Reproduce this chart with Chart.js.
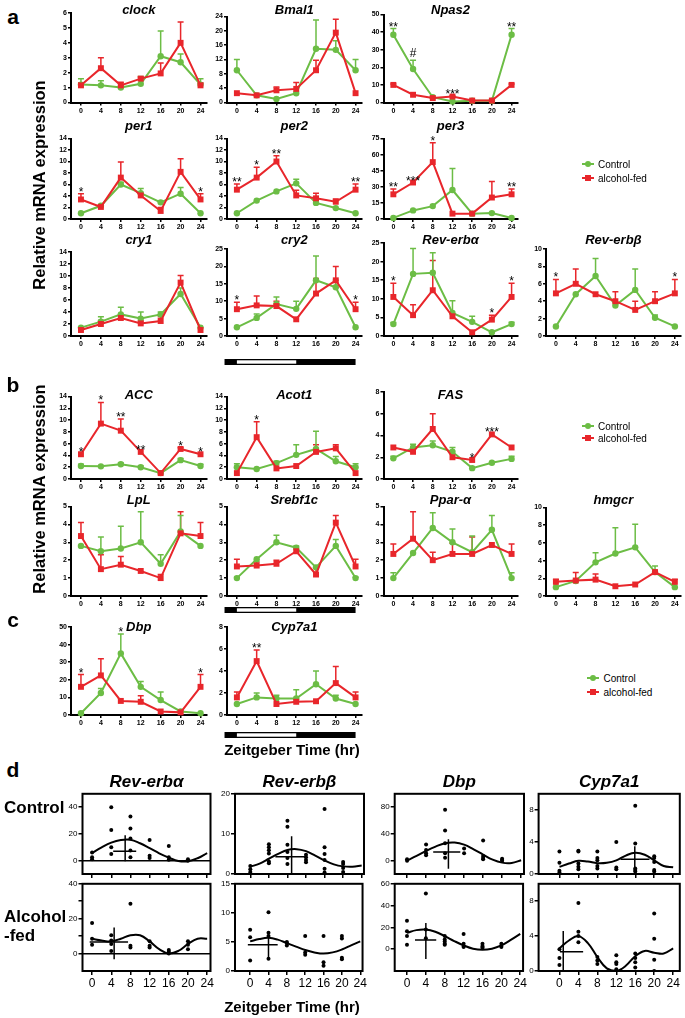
<!DOCTYPE html>
<html>
<head>
<meta charset="utf-8">
<title>Clock and lipid gene expression</title>
<script src="https://cdn.jsdelivr.net/npm/chart.js@4.4.1/dist/chart.umd.min.js"></script>
<style>
  body { margin: 0; background: #fff; }
  #fig { position: relative; width: 685px; height: 1018px; overflow: hidden; font-family: Arial, "Liberation Sans", sans-serif; color: #000; }
  #fig canvas { position: absolute; }
  .txt { position: absolute; white-space: nowrap; line-height: 1; transform: translate(-50%, -50%); }
  .txt.left { transform: translate(0, -50%); }
  .txt.vert { transform: translate(-50%, -50%) rotate(-90deg); }
  .swatch { position: absolute; }
</style>
</head>
<body>
<div id="fig"></div>
<script>
// time points (Zeitgeber time, hr)
const zt = [0, 4, 8, 12, 16, 20, 24];
const none = ['', '', '', '', '', '', ''];

// ---- panel a ----
const clockCtrl = [1.2, 1.15, 1.0, 1.25, 3.1, 2.7, 1.2];
const clockCtrlErr = [0.4, 0.3, 0.1, 0.5, 1.7, 0.55, 0.4];
const clockAlc = [1.15, 2.3, 1.15, 1.6, 1.95, 4.0, 1.15];
const clockAlcErr = [0.15, 0.7, 0.2, 0.1, 0.7, 1.4, 0.15];

const bmal1Ctrl = [9, 2.0, 1.0, 2.6, 15, 14.7, 9];
const bmal1CtrlErr = [3, 0, 0, 0, 8, 2.5, 3];
const bmal1Alc = [2.6, 2.0, 3.4, 3.8, 9, 19.5, 2.6];
const bmal1AlcErr = [0, 0, 0.9, 1.8, 2.8, 3.7, 0];

const npas2Ctrl = [38.5, 19, 3, 0.6, 1, 1, 38.5];
const npas2CtrlErr = [3.5, 5, 0, 0, 0, 0, 3.5];
const npas2Alc = [10, 4.4, 2.5, 3.4, 1.1, 1.1, 10];
const npas2AlcErr = [0.5, 0, 0, 0.5, 0, 0, 0.5];
const npas2Stars = ['**', '#', '', '***', '', '', '**'];

const per1Ctrl = [1.0, 2.3, 6.0, 4.5, 2.9, 4.4, 1.0];
const per1CtrlErr = [0, 0, 0.4, 0.8, 0, 1.1, 0];
const per1Alc = [3.4, 2.1, 7.2, 4.1, 1.4, 8.2, 3.4];
const per1AlcErr = [1.0, 0.4, 2.7, 0.3, 0.6, 2.3, 1.0];
const per1Stars = ['*', '', '', '', '', '', '*'];

const per2Ctrl = [1.0, 3.2, 4.8, 6.2, 2.8, 1.9, 1.0];
const per2CtrlErr = [0, 0, 0, 0.7, 0, 0, 0];
const per2Alc = [5.1, 7.2, 10.0, 4.1, 3.6, 3.0, 5.1];
const per2AlcErr = [1.0, 1.8, 1.0, 0.9, 0.9, 0.5, 1.0];
const per2Stars = ['**', '*', '**', '', '', '', '**'];

const per3Ctrl = [1, 8, 12, 27, 5, 5.5, 1];
const per3CtrlErr = [0, 0, 0, 20, 0, 0, 0];
const per3Alc = [23, 34, 53, 5, 5, 20, 23];
const per3AlcErr = [5, 0, 18, 0, 0, 15, 5];
const per3Stars = ['**', '***', '*', '', '', '', '**'];

const cry1Ctrl = [1.4, 2.4, 3.6, 2.9, 3.6, 7.0, 1.4];
const cry1CtrlErr = [0, 0.8, 1.2, 1.1, 0.4, 1.0, 0];
const cry1Alc = [1.0, 2.0, 3.0, 2.1, 2.5, 8.9, 1.0];
const cry1AlcErr = [0, 0.6, 0.4, 0.4, 0.7, 1.2, 0];

const cry2Ctrl = [2.5, 5.2, 9.2, 7.8, 16, 14, 2.5];
const cry2CtrlErr = [0, 1.1, 2, 2.2, 7, 2, 0];
const cry2Alc = [7.7, 8.8, 8.6, 4.8, 12.2, 16, 7.7];
const cry2AlcErr = [2, 2.7, 1.4, 0, 4.3, 4, 2];
const cry2Stars = ['*', '', '', '', '', '', '*'];

const revACtrl = [3.2, 16.7, 17.0, 6.2, 3.8, 1.0, 3.2];
const revACtrlErr = [0.4, 6.8, 5.4, 3.3, 1.5, 0, 0.5];
const revAAlc = [10.5, 5.6, 12.3, 5.3, 1.0, 4.4, 10.5];
const revAAlcErr = [3.7, 2.8, 8, 0, 0, 1.2, 3.7];
const revAStars = ['*', '', '', '', '', '*', '*'];

const revBCtrl = [1.1, 4.8, 6.9, 3.5, 5.3, 2.1, 1.1];
const revBCtrlErr = [0, 0, 2, 0, 2.4, 0.3, 0];
const revBAlc = [4.9, 6.0, 4.8, 4.0, 3.0, 4.0, 4.9];
const revBAlcErr = [1.6, 1.7, 0, 1.1, 1.0, 1.1, 1.6];
const revBStars = ['*', '', '', '', '', '', '*'];

// ---- panel b ----
const accCtrl = [2.2, 2.15, 2.5, 2.0, 1.0, 3.2, 2.2];
const accCtrlErr = [0.3, 0, 0.2, 0.2, 0, 0.3, 0.3];
const accAlc = [4.2, 9.4, 8.2, 4.6, 1.0, 5.1, 4.2];
const accAlcErr = [0, 3.6, 2.0, 0, 0, 0.2, 0];
const accStars = ['*', '*', '**', '**', '', '*', '*'];

const acot1Ctrl = [2.0, 1.7, 2.7, 4.1, 5.1, 3.0, 2.0];
const acot1CtrlErr = [0.6, 0, 0.3, 1.7, 3.0, 0.8, 0.6];
const acot1Alc = [1.0, 7.1, 1.8, 2.2, 4.6, 5.2, 1.0];
const acot1AlcErr = [0, 2.6, 0, 0, 1.2, 0.6, 0];
const acot1Stars = ['', '*', '', '', '', '', ''];

const fasCtrl = [1.9, 2.9, 3.1, 2.5, 1.0, 1.5, 1.85];
const fasCtrlErr = [0.2, 0.3, 0.4, 0.4, 0, 0, 0.25];
const fasAlc = [2.9, 2.5, 4.6, 2.0, 1.75, 4.1, 2.9];
const fasAlcErr = [0, 0, 1.4, 0, 0, 0, 0];
const fasStars = ['', '', '', '', '*', '***', ''];

const lplCtrl = [2.8, 2.5, 2.65, 3.0, 1.8, 3.6, 2.8];
const lplCtrlErr = [0, 0.8, 1.25, 1.7, 0.5, 0.9, 0];
const lplAlc = [3.35, 1.5, 1.75, 1.4, 1.0, 3.5, 3.35];
const lplAlcErr = [0.75, 0.8, 0.45, 0, 0.2, 1.2, 0.75];

const srebfCtrl = [1.0, 2.05, 3.0, 2.7, 1.6, 2.8, 1.0];
const srebfCtrlErr = [0.05, 0, 0.4, 0.1, 0, 0.35, 0.05];
const srebfAlc = [1.65, 1.7, 1.8, 2.5, 1.2, 4.1, 1.65];
const srebfAlcErr = [0.4, 0.2, 0.2, 0, 0.4, 0.4, 0.4];

const pparCtrl = [1.0, 2.4, 3.8, 3.0, 2.45, 3.7, 1.0];
const pparCtrlErr = [0.3, 0, 0.85, 0.75, 0.9, 0.8, 0.3];
const pparAlc = [2.35, 3.2, 2.0, 2.35, 2.35, 2.85, 2.35];
const pparAlcErr = [0.55, 1.5, 0.45, 0.6, 0.95, 0, 0.55];

const hmgcrCtrl = [1.0, 1.7, 3.8, 4.8, 5.5, 2.7, 1.0];
const hmgcrCtrlErr = [0, 0, 1.1, 2.9, 2.6, 0.7, 0];
const hmgcrAlc = [1.6, 1.75, 1.85, 1.1, 1.3, 2.7, 1.6];
const hmgcrAlcErr = [0.3, 0.9, 0.65, 0, 0, 0, 0.3];

// ---- panel c ----
const dbpCtrl = [1, 12.5, 35, 16, 8.5, 2, 1];
const dbpCtrlErr = [0, 2.5, 11, 3, 4.5, 0, 0];
const dbpAlc = [16, 22.5, 8, 7.5, 2, 1.5, 16];
const dbpAlcErr = [7, 9.5, 0, 3.5, 0, 0, 7];
const dbpStars = ['*', '', '*', '', '', '', '*'];

const cypCtrl = [1.0, 1.6, 1.5, 1.5, 2.8, 1.5, 1.0];
const cypCtrlErr = [0, 0.4, 0.3, 0.8, 1.2, 0.3, 0];
const cypAlc = [1.6, 4.9, 1.0, 1.2, 1.25, 2.9, 1.6];
const cypAlcErr = [0.5, 1.0, 0, 0, 0, 1.5, 0.5];
const cypStars = ['', '**', '', '', '', '', ''];

// light/dark bar (ZT)
const ldStart = -2.5, lightsOn = 0, lightsOff = 12, ldEnd = 24;

// ---- panel d: individual animals, cosinor fits, mean crosses ----
const sampleZT = [0, 4, 8, 12, 16, 20];
const fitZT = [0, 2, 4, 6, 8, 10, 12, 14, 16, 18, 20, 22, 24];

const revACtrlPts = [[6, 2.5, 1], [40, 23, 10, 5], [33, 24, 16.5, 7.5, 2.5], [15.5, 3.7, 2], [11, 2.5, 0.7], [1, 0]];
const revACtrlFit = [5.8, 10, 13.5, 15.5, 15.7, 13, 9.4, 5.5, 2.3, -0.3, -0.5, 1.8, 5.7];
const revACtrlH = [4.4, 9.2, 7];
const revACtrlV = [6.9, -0.5, 19];

const revBCtrlPts = [[2.0, 1.2, 0.5, 0.1], [7.4, 6.7, 5.9, 5.1, 3.1, 2.7], [13.3, 11.8, 7.3, 5.5, 4.0, 2.5], [4.8, 4.2, 3.5, 2.9], [16.2, 6.7, 5.0, 3.5, 1.3, 0.4], [3.0, 2.5, 1.5, 0.5]];
const revBCtrlFit = [1.8, 2.6, 3.8, 5.0, 6.0, 6.2, 5.7, 4.6, 3.4, 2.4, 1.9, 1.8, 2.1];
const revBCtrlH = [5.4, 12.2, 4.3];
const revBCtrlV = [8.9, 0, 9.4];

const dbpCtrlPts = [[2, 0], [24, 16, 11, 8], [76, 45, 26, 11, 4.5], [18, 11], [30, 7, 4, 2], [3, 1, 0]];
const dbpCtrlFit = [0, 7, 14.5, 21, 26, 27, 24, 17, 9, 1.5, -3, -3.5, 0.5];
const dbpCtrlH = [5.5, 11.2, 13];
const dbpCtrlV = [8.7, -12, 32];

const cypCtrlPts = [[2.8, 1.4, 0.4, 0.2], [2.9, 2.8, 1.3, 0.9, 0.6], [2.8, 2.0, 1.7, 1.0, 0.7], [4.0, 0.8, 0.6], [8.5, 3.8, 0.7, 0.5, 0.3], [2.2, 2.0, 1.5, 0.5, 0.3]];
const cypCtrlFit = [0.9, 1.3, 1.65, 1.55, 1.35, 1.4, 1.7, 2.3, 2.65, 2.4, 1.7, 1.0, 0.85];
const cypCtrlH = [12.9, 19, 1.85];
const cypCtrlV = [15.9, 0.35, 3.45];

const revAAlcPts = [[17.5, 8.5, 5], [10.5, 7.5, 5.5, 1.5], [28.5, 4.5, 3.5], [7, 4.5, 3.5], [2, 1, 0], [7, 5, 2.5]];
const revAAlcFit = [8.5, 7.5, 7.0, 8.5, 10.5, 10.5, 7, 2.5, 0, 1.5, 5.5, 8.5, 8.5];
const revAAlcH = [-0.5, 7.5, 6.7];
const revAAlcV = [4.6, -3.2, 15];

const revBAlcPts = [[7.1, 5.8, 1.8], [10.1, 6.6, 6.0, 2.1], [5.0, 4.8, 4.4], [6.0, 3.2, 2.8], [6.0, 1.5, 0.9], [6.0, 5.6, 2.3, 2.0]];
const revBAlcFit = [5.1, 5.5, 5.7, 5.4, 4.8, 4.2, 3.6, 3.2, 3.0, 3.2, 3.7, 4.4, 5.1];
const revBAlcH = [-0.5, 6, 4.5];
const revBAlcV = [4, 2, 6.4];

const dbpAlcPts = [[26, 16.5, 12, 4], [51, 18, 10], [12, 9, 7, 5, 4], [14, 5, 3, 2], [5, 3, 2, 1], [5, 3, 2]];
const dbpAlcFit = [15, 17.5, 18, 16, 12, 7.5, 3.5, 0.5, -0.5, 0.5, 3.5, 8.5, 14];
const dbpAlcH = [1.7, 6.2, 8.5];
const dbpAlcV = [4, -9, 24];

const cypAlcPts = [[2.5, 1.5, 0.7], [7.8, 4.5, 4.0, 3.3], [1.6, 1.2, 0.8], [1.8, 1.0, 0.8, 0.2], [2.0, 1.5, 1.0, 0.4], [6.6, 3.7, 1.3, 0]];
const cypAlcFit = [2.6, 3.5, 4.0, 3.2, 1.6, 0.3, 0.0, 0.6, 1.7, 2.3, 2.1, 2.0, 2.6];
const cypAlcH = [0.1, 5.0, 2.2];
const cypAlcV = [0.8, 0.1, 4.6];

const GREEN = '#6cbd45';
const RED = '#e8262b';
const FONT = 'Arial, "Liberation Sans", sans-serif';

const fig = document.getElementById('fig');

function addText(str, x, y, css, cls) {
    const d = document.createElement('div');
    d.className = 'txt' + (cls ? ' ' + cls : '');
    d.textContent = str;
    d.style.left = x + 'px';
    d.style.top = y + 'px';
    d.style.font = css;
    fig.appendChild(d);
    return d;
}

function addLegend(x, y1, y2) {
    const items = [[GREEN, 'circle', 'Control', y1], [RED, 'rect', 'alcohol-fed', y2]];
    items.forEach(it => {
        const line = document.createElement('div');
        line.className = 'swatch';
        line.style.cssText = `left:${x - 6}px;top:${it[3] - 1}px;width:12px;height:2px;background:${it[0]}`;
        fig.appendChild(line);
        const mk = document.createElement('div');
        mk.className = 'swatch';
        mk.style.cssText = `left:${x - 3}px;top:${it[3] - 3}px;width:6px;height:6px;background:${it[0]};` +
            (it[1] === 'circle' ? 'border-radius:50%;' : '');
        fig.appendChild(mk);
        addText(it[2], x + 10.5, it[3], '10px ' + FONT, 'left');
    });
}

function addCanvas(left, top, w, h) {
    const c = document.createElement('canvas');
    c.width = w;
    c.height = h;
    c.style.left = left + 'px';
    c.style.top = top + 'px';
    fig.appendChild(c);
    return c;
}

// column / row geometry for panels a-c (plot-area edges in page px)
const cols = [
    { left: 71, right: 206.5 },
    { left: 227, right: 361.5 },
    { left: 383.5, right: 517.5 },
    { left: 546, right: 681 }
];
const rows = {
    a1: { top: 14, bottom: 102.5, title: 10 },
    a2: { top: 138.5, bottom: 219, title: 126 },
    a3: { top: 248, bottom: 336, title: 240 },
    b1: { top: 396.5, bottom: 479, title: 395 },
    b2: { top: 506.5, bottom: 596, title: 500 },
    c: { top: 627, bottom: 715, title: 627 }
};

function decorPlugin(p, cvTop) {
    return {
        id: 'decor',
        beforeDatasetsDraw(chart) {
            const ctx = chart.ctx, xs = chart.scales.x, ys = chart.scales.y;
            ctx.save();
            ctx.lineWidth = 1.5;
            chart.data.datasets.forEach(ds => {
                ctx.strokeStyle = ds.borderColor;
                ds.data.forEach((pt, i) => {
                    const e = ds.errs[i];
                    if (!e) return;
                    const px = xs.getPixelForValue(pt.x);
                    const py = ys.getPixelForValue(pt.y);
                    const pe = ys.getPixelForValue(pt.y + e);
                    ctx.beginPath();
                    ctx.moveTo(px, py);
                    ctx.lineTo(px, pe);
                    ctx.moveTo(px - 3, pe);
                    ctx.lineTo(px + 3, pe);
                    ctx.stroke();
                });
            });
            ctx.restore();
        },
        afterDraw(chart) {
            const ctx = chart.ctx, xs = chart.scales.x, ys = chart.scales.y, area = chart.chartArea;
            ctx.save();
            // gene title
            ctx.fillStyle = '#000';
            ctx.font = 'italic bold 13px ' + FONT;
            ctx.textAlign = 'center';
            ctx.textBaseline = 'middle';
            ctx.fillText(p.name, (area.left + area.right) / 2, rows[p.row].title - cvTop);
            // significance marks
            ctx.font = '12px ' + FONT;
            ctx.textBaseline = 'alphabetic';
            p.stars.forEach((s, i) => {
                if (!s) return;
                let top = 0;
                chart.data.datasets.forEach(ds => {
                    top = Math.max(top, ds.data[i].y + (ds.errs[i] || 0));
                });
                const py = ys.getPixelForValue(top);
                const base = s.indexOf('#') >= 0 ? py - 3 : py + 2;
                ctx.fillText(s, xs.getPixelForValue(zt[i]), base);
            });
            // light/dark bar
            if (p.ld) {
                const y0 = area.bottom + p.ld;
                ctx.fillStyle = '#000';
                ctx.fillRect(xs.getPixelForValue(ldStart), y0, xs.getPixelForValue(ldEnd) - xs.getPixelForValue(ldStart), 6);
                ctx.fillStyle = '#fff';
                ctx.fillRect(xs.getPixelForValue(lightsOn), y0 + 1.3, xs.getPixelForValue(lightsOff) - xs.getPixelForValue(lightsOn), 3.4);
            }
            ctx.restore();
        }
    };
}

function makeTimeChart(p) {
    const col = cols[p.col], row = rows[p.row];
    const top = p.top || row.top;
    const cvLeft = Math.floor(col.left - 34);
    const cvRight = Math.min(685, Math.ceil(col.right + 4));
    const cvTop = Math.floor(Math.min(row.title - 10, top - 6));
    const cvBottom = Math.ceil(row.bottom + 16 + (p.ld ? p.ld + 8 : 0));
    const canvas = addCanvas(cvLeft, cvTop, cvRight - cvLeft, cvBottom - cvTop);
    const tickFont = { family: FONT, size: 7, weight: 'bold' };
    const axisGrid = { display: true, drawOnChartArea: false, drawTicks: true, tickLength: 3, color: '#000', lineWidth: 1.5 };
    const axisBorder = { display: true, color: '#000', width: 2 };

    new Chart(canvas, {
        type: 'line',
        data: {
            datasets: [
                {
                    label: 'alcohol-fed',
                    data: zt.map((t, i) => ({ x: t, y: p.alc[i] })),
                    errs: p.alcErr,
                    borderColor: RED, backgroundColor: RED,
                    pointStyle: 'rect', pointRadius: 4.2, pointBorderWidth: 0,
                    borderWidth: 2, tension: 0, clip: false, order: 0
                },
                {
                    label: 'Control',
                    data: zt.map((t, i) => ({ x: t, y: p.ctrl[i] })),
                    errs: p.ctrlErr,
                    borderColor: GREEN, backgroundColor: GREEN,
                    pointStyle: 'circle', pointRadius: 3.2, pointBorderWidth: 0,
                    borderWidth: 2, tension: 0, clip: false, order: 1
                }
            ]
        },
        options: {
            responsive: false,
            animation: false,
            events: [],
            layout: {
                padding: {
                    left: col.left - cvLeft - 16,
                    right: cvRight - col.right,
                    top: top - cvTop,
                    bottom: cvBottom - row.bottom - 14
                }
            },
            plugins: { legend: { display: false }, tooltip: { enabled: false } },
            scales: {
                x: {
                    type: 'linear', min: -2, max: 25.2,
                    afterBuildTicks: s => { s.ticks = zt.map(v => ({ value: v })); },
                    afterFit: s => { s.height = 14; },
                    grid: axisGrid, border: axisBorder,
                    ticks: { font: tickFont, color: '#000', padding: 1, maxRotation: 0, autoSkip: false }
                },
                y: {
                    min: 0, max: p.yMax,
                    afterFit: s => { s.width = 16; },
                    grid: axisGrid, border: axisBorder,
                    ticks: { stepSize: p.yStep, font: tickFont, color: '#000', padding: 1 }
                }
            }
        },
        plugins: [decorPlugin(p, cvTop)]
    });
}

const timePanels = [
    { name: 'clock', col: 0, row: 'a1', top: 13, yMax: 6, yStep: 1, ctrl: clockCtrl, ctrlErr: clockCtrlErr, alc: clockAlc, alcErr: clockAlcErr, stars: none },
    { name: 'Bmal1', col: 1, row: 'a1', top: 16.5, yMax: 24, yStep: 4, ctrl: bmal1Ctrl, ctrlErr: bmal1CtrlErr, alc: bmal1Alc, alcErr: bmal1AlcErr, stars: none },
    { name: 'Npas2', col: 2, row: 'a1', top: 14.5, yMax: 50, yStep: 10, ctrl: npas2Ctrl, ctrlErr: npas2CtrlErr, alc: npas2Alc, alcErr: npas2AlcErr, stars: npas2Stars },
    { name: 'per1', col: 0, row: 'a2', yMax: 14, yStep: 2, ctrl: per1Ctrl, ctrlErr: per1CtrlErr, alc: per1Alc, alcErr: per1AlcErr, stars: per1Stars },
    { name: 'per2', col: 1, row: 'a2', yMax: 14, yStep: 2, ctrl: per2Ctrl, ctrlErr: per2CtrlErr, alc: per2Alc, alcErr: per2AlcErr, stars: per2Stars },
    { name: 'per3', col: 2, row: 'a2', yMax: 75, yStep: 15, ctrl: per3Ctrl, ctrlErr: per3CtrlErr, alc: per3Alc, alcErr: per3AlcErr, stars: per3Stars },
    { name: 'cry1', col: 0, row: 'a3', top: 252, yMax: 14, yStep: 2, ctrl: cry1Ctrl, ctrlErr: cry1CtrlErr, alc: cry1Alc, alcErr: cry1AlcErr, stars: none },
    { name: 'cry2', col: 1, row: 'a3', top: 249, yMax: 25, yStep: 5, ctrl: cry2Ctrl, ctrlErr: cry2CtrlErr, alc: cry2Alc, alcErr: cry2AlcErr, stars: cry2Stars, ld: 23 },
    { name: 'Rev-erbα', col: 2, row: 'a3', top: 243, yMax: 25, yStep: 5, ctrl: revACtrl, ctrlErr: revACtrlErr, alc: revAAlc, alcErr: revAAlcErr, stars: revAStars },
    { name: 'Rev-erbβ', col: 3, row: 'a3', top: 249, yMax: 10, yStep: 2, ctrl: revBCtrl, ctrlErr: revBCtrlErr, alc: revBAlc, alcErr: revBAlcErr, stars: revBStars },
    { name: 'ACC', col: 0, row: 'b1', yMax: 14, yStep: 2, ctrl: accCtrl, ctrlErr: accCtrlErr, alc: accAlc, alcErr: accAlcErr, stars: accStars },
    { name: 'Acot1', col: 1, row: 'b1', yMax: 14, yStep: 2, ctrl: acot1Ctrl, ctrlErr: acot1CtrlErr, alc: acot1Alc, alcErr: acot1AlcErr, stars: acot1Stars },
    { name: 'FAS', col: 2, row: 'b1', top: 392, yMax: 8, yStep: 2, ctrl: fasCtrl, ctrlErr: fasCtrlErr, alc: fasAlc, alcErr: fasAlcErr, stars: fasStars },
    { name: 'LpL', col: 0, row: 'b2', yMax: 5, yStep: 1, ctrl: lplCtrl, ctrlErr: lplCtrlErr, alc: lplAlc, alcErr: lplAlcErr, stars: none },
    { name: 'Srebf1c', col: 1, row: 'b2', yMax: 5, yStep: 1, ctrl: srebfCtrl, ctrlErr: srebfCtrlErr, alc: srebfAlc, alcErr: srebfAlcErr, stars: none, ld: 11 },
    { name: 'Ppar-α', col: 2, row: 'b2', yMax: 5, yStep: 1, ctrl: pparCtrl, ctrlErr: pparCtrlErr, alc: pparAlc, alcErr: pparAlcErr, stars: none },
    { name: 'hmgcr', col: 3, row: 'b2', top: 507.5, yMax: 10, yStep: 2, ctrl: hmgcrCtrl, ctrlErr: hmgcrCtrlErr, alc: hmgcrAlc, alcErr: hmgcrAlcErr, stars: none },
    { name: 'Dbp', col: 0, row: 'c', yMax: 50, yStep: 10, ctrl: dbpCtrl, ctrlErr: dbpCtrlErr, alc: dbpAlc, alcErr: dbpAlcErr, stars: dbpStars },
    { name: 'Cyp7a1', col: 1, row: 'c', yMax: 8, yStep: 2, ctrl: cypCtrl, ctrlErr: cypCtrlErr, alc: cypAlc, alcErr: cypAlcErr, stars: cypStars, ld: 17 }
];
timePanels.forEach(makeTimeChart);

// ---- panel d ----
const dCols = [
    { left: 82.5, right: 210.5, min: -2, max: 24.7 },
    { left: 235, right: 364, min: -3.3, max: 24.5 },
    { left: 394.7, right: 524, min: -2.6, max: 24.6 },
    { left: 538.6, right: 679.8, min: -4.4, max: 25.4 }
];
const dRows = { ctrl: { top: 793, bottom: 874 }, alc: { top: 883, bottom: 971 } };

const boxPlugin = {
    id: 'box',
    afterDraw(chart) {
        const a = chart.chartArea, ctx = chart.ctx;
        ctx.save();
        ctx.strokeStyle = '#000';
        ctx.lineWidth = 2;
        ctx.strokeRect(a.left, a.top, a.right - a.left, a.bottom - a.top);
        ctx.restore();
    }
};

function makeCosChart(p) {
    const col = dCols[p.col], row = dRows[p.row];
    const bottomRow = p.row === 'alc';
    const xAxisH = bottomRow ? 17 : 5;
    const cvLeft = Math.floor(col.left - 28);
    const cvRight = Math.min(685, Math.ceil(col.right + 4));
    const cvTop = Math.floor(row.top - 5);
    const cvBottom = Math.ceil(row.bottom + (bottomRow ? 20 : 8));
    const canvas = addCanvas(cvLeft, cvTop, cvRight - cvLeft, cvBottom - cvTop);

    const pts = [];
    sampleZT.forEach((t, i) => p.pts[i].forEach(v => pts.push({ x: t, y: v })));
    const lineStyle = { showLine: true, borderColor: '#000', pointRadius: 0, fill: false };

    new Chart(canvas, {
        type: 'scatter',
        data: {
            datasets: [
                { data: pts, pointRadius: 2, backgroundColor: '#000', borderColor: '#000', pointBorderWidth: 0 },
                Object.assign({ data: fitZT.map((t, i) => ({ x: t, y: p.fit[i] })), borderWidth: 2, tension: 0.4 }, lineStyle),
                Object.assign({ data: [{ x: p.h[0], y: p.h[2] }, { x: p.h[1], y: p.h[2] }], borderWidth: 1.5 }, lineStyle),
                Object.assign({ data: [{ x: p.v[0], y: p.v[1] }, { x: p.v[0], y: p.v[2] }], borderWidth: 1.5 }, lineStyle)
            ]
        },
        options: {
            responsive: false,
            animation: false,
            events: [],
            layout: {
                padding: {
                    left: col.left - cvLeft - 22,
                    right: cvRight - col.right,
                    top: row.top - cvTop,
                    bottom: cvBottom - row.bottom - xAxisH
                }
            },
            plugins: { legend: { display: false }, tooltip: { enabled: false } },
            scales: {
                x: {
                    type: 'linear', min: col.min, max: col.max,
                    afterBuildTicks: s => { s.ticks = zt.map(v => ({ value: v })); },
                    afterFit: s => { s.height = xAxisH; },
                    border: { display: false },
                    grid: { display: true, drawOnChartArea: false, drawTicks: true, tickLength: 4, color: '#000', lineWidth: 1.5 },
                    ticks: { display: bottomRow, font: { family: FONT, size: 12 }, color: '#000', padding: 1, maxRotation: 0, autoSkip: false }
                },
                y: {
                    min: p.yMin, max: p.yMax,
                    afterBuildTicks: s => { s.ticks = p.yTicks.map(v => ({ value: v })); },
                    afterFit: s => { s.width = 22; },
                    border: { display: false },
                    grid: {
                        display: true, drawOnChartArea: true, drawTicks: true, tickLength: 4, lineWidth: 1.5,
                        tickColor: '#000',
                        color: c => (p.zeroLine && c.tick && c.tick.value === 0) ? '#000' : 'rgba(0,0,0,0)'
                    },
                    ticks: {
                        font: { family: FONT, size: 8 }, color: '#000', padding: 1,
                        callback: v => p.yLabels.indexOf(v) >= 0 ? String(v) : ''
                    }
                }
            }
        },
        plugins: [boxPlugin]
    });
}

const cosPanels = [
    { col: 0, row: 'ctrl', yMin: -10, yMax: 50, yTicks: [0, 20, 40], yLabels: [0, 20, 40], zeroLine: true, pts: revACtrlPts, fit: revACtrlFit, h: revACtrlH, v: revACtrlV },
    { col: 1, row: 'ctrl', yMin: 0, yMax: 20, yTicks: [0, 10, 20], yLabels: [0, 10, 20], pts: revBCtrlPts, fit: revBCtrlFit, h: revBCtrlH, v: revBCtrlV },
    { col: 2, row: 'ctrl', yMin: -20, yMax: 100, yTicks: [0, 40, 80], yLabels: [0, 40, 80], pts: dbpCtrlPts, fit: dbpCtrlFit, h: dbpCtrlH, v: dbpCtrlV },
    { col: 3, row: 'ctrl', yMin: 0, yMax: 10, yTicks: [0, 4, 8], yLabels: [0, 4, 8], pts: cypCtrlPts, fit: cypCtrlFit, h: cypCtrlH, v: cypCtrlV },
    { col: 0, row: 'alc', yMin: -10, yMax: 40, yTicks: [0, 10, 20, 30, 40], yLabels: [0, 20, 40], zeroLine: true, pts: revAAlcPts, fit: revAAlcFit, h: revAAlcH, v: revAAlcV },
    { col: 1, row: 'alc', yMin: 0, yMax: 15, yTicks: [0, 5, 10, 15], yLabels: [0, 5, 10, 15], pts: revBAlcPts, fit: revBAlcFit, h: revBAlcH, v: revBAlcV },
    { col: 2, row: 'alc', yMin: -20, yMax: 60, yTicks: [0, 20, 40, 60], yLabels: [0, 20, 40, 60], pts: dbpAlcPts, fit: dbpAlcFit, h: dbpAlcH, v: dbpAlcV },
    { col: 3, row: 'alc', yMin: 0, yMax: 10, yTicks: [0, 4, 8], yLabels: [0, 4, 8], pts: cypAlcPts, fit: cypAlcFit, h: cypAlcH, v: cypAlcV }
];
cosPanels.forEach(makeCosChart);

// ---- text: panel letters, axis titles, legends ----
const big = 'bold 21px ' + FONT;
addText('a', 13, 17, big);
addText('b', 13, 385, big);
addText('c', 13, 620, big);
addText('d', 13, 770, big);

addText('Relative mRNA expression', 39, 185, 'bold 16.5px ' + FONT, 'vert');
addText('Relative mRNA expression', 39, 489, 'bold 16.5px ' + FONT, 'vert');

addText('Zeitgeber Time (hr)', 292, 749, 'bold 15px ' + FONT);
addText('Zeitgeber Time (hr)', 292, 1006, 'bold 15px ' + FONT);

['Rev-erbα', 'Rev-erbβ', 'Dbp', 'Cyp7a1'].forEach((t, i) => {
    addText(t, (dCols[i].left + dCols[i].right) / 2, 782, 'italic bold 17px ' + FONT);
});
addText('Control', 4, 808, 'bold 17px ' + FONT, 'left');
addText('Alcohol', 4, 917, 'bold 17px ' + FONT, 'left');
addText('-fed', 4, 936, 'bold 17px ' + FONT, 'left');

addLegend(587.5, 164, 178);
addLegend(587.5, 425.5, 437.5);
addLegend(593, 678, 692);
</script>
</body>
</html>
